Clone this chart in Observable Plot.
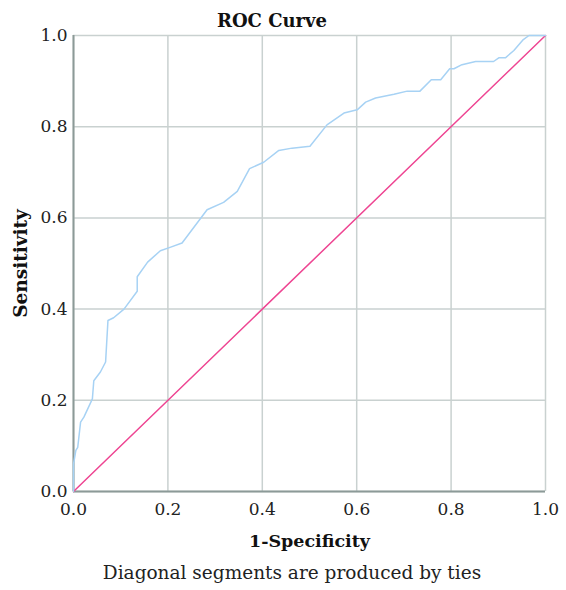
<!DOCTYPE html>
<html>
<head>
<meta charset="utf-8">
<script src="https://cdn.jsdelivr.net/npm/d3@7"></script>
<script src="https://cdn.jsdelivr.net/npm/@observablehq/plot@0.6"></script>
<style>
  body { margin: 0; background: #fff; font-family: "DejaVu Serif", serif; overflow: hidden; }
  #wrap { position: relative; width: 566px; height: 590px; }
  #chart { position: absolute; left: 0; top: 0; }
  #title { position: absolute; left: 272px; transform: translateX(-50%); top: 11px; line-height: 20px; white-space: nowrap; font-weight: bold; font-size: 18px; color: #111; z-index: 2; }
  #caption { position: absolute; left: 292px; transform: translateX(-50%); top: 562px; line-height: 22px; white-space: nowrap; font-size: 18.5px; color: #222; }
  #chart svg g[aria-label="x-axis label"] text { font-weight: bold; font-size: 17.5px; fill: #111; }
  #chart svg g[aria-label="y-axis label"] text { font-weight: bold; font-size: 18.5px; fill: #111; }
  #chart svg g[aria-label="x-axis tick label"] text, #chart svg g[aria-label="y-axis tick label"] text { font-size: 17px; fill: #222; }
</style>
</head>
<body>
<div id="wrap">
  <div id="chart"></div>
  <div id="title">ROC Curve</div>
  <div id="caption">Diagonal segments are produced by ties</div>
</div>
<script>
const fpr = [0, 0, 0.005, 0.009, 0.015, 0.022, 0.04, 0.043, 0.057, 0.068, 0.073, 0.085, 0.107, 0.135, 0.135, 0.157, 0.184, 0.206, 0.23, 0.283, 0.318, 0.347, 0.373, 0.403, 0.435, 0.463, 0.501, 0.537, 0.573, 0.601, 0.619, 0.64, 0.679, 0.707, 0.734, 0.758, 0.778, 0.797, 0.806, 0.823, 0.852, 0.89, 0.901, 0.915, 0.933, 0.953, 0.965, 1];
const tpr = [0, 0.06, 0.09, 0.097, 0.152, 0.163, 0.203, 0.243, 0.262, 0.284, 0.375, 0.381, 0.40, 0.439, 0.471, 0.503, 0.528, 0.536, 0.545, 0.618, 0.634, 0.658, 0.708, 0.722, 0.748, 0.753, 0.757, 0.804, 0.83, 0.837, 0.854, 0.863, 0.871, 0.878, 0.878, 0.903, 0.903, 0.927, 0.927, 0.936, 0.943, 0.943, 0.951, 0.951, 0.967, 0.991, 1.0, 1.0];
const refX = [0, 1];
const refY = [0, 1];
const tickValues = [0, 0.2, 0.4, 0.6, 0.8, 1.0];

const roc = fpr.map((x, i) => ({x, y: tpr[i]}));
const ref = refX.map((x, i) => ({x, y: refY[i]}));

const chart = Plot.plot({
  width: 566,
  height: 555,
  marginLeft: 73,
  marginRight: 21,
  marginTop: 35,
  marginBottom: 64,
  style: { fontFamily: "DejaVu Serif, serif", fontSize: "17px", color: "#222", background: "#fff", overflow: "visible" },
  x: { domain: [0, 1] },
  y: { domain: [0, 1] },
  marks: [
    Plot.gridX(tickValues, { stroke: "#c9d1d0", strokeOpacity: 1, strokeWidth: 1.5 }),
    Plot.gridY(tickValues, { stroke: "#c9d1d0", strokeOpacity: 1, strokeWidth: 1.5 }),
    Plot.axisX({ ticks: tickValues, tickFormat: d3.format(".1f"), tickSize: 0, tickPadding: 11, fontSize: 17, label: "1-Specificity", labelAnchor: "center", labelArrow: "none", labelOffset: 55 }),
    Plot.axisY({ ticks: tickValues, tickFormat: d3.format(".1f"), tickSize: 0, tickPadding: 6, fontSize: 17, label: "Sensitivity", labelAnchor: "center", labelArrow: "none", labelOffset: 60 }),
    Plot.ruleX([0], { stroke: "#8c9a98", strokeWidth: 2 }),
    Plot.ruleY([0], { stroke: "#8c9a98", strokeWidth: 2 }),
    Plot.line(ref, { x: "x", y: "y", stroke: "#ee4592", strokeWidth: 1.5 }),
    Plot.line(roc, { x: "x", y: "y", stroke: "#a7d2f4", strokeWidth: 1.5 })
  ]
});
document.getElementById("chart").appendChild(chart);
</script>
</body>
</html>
